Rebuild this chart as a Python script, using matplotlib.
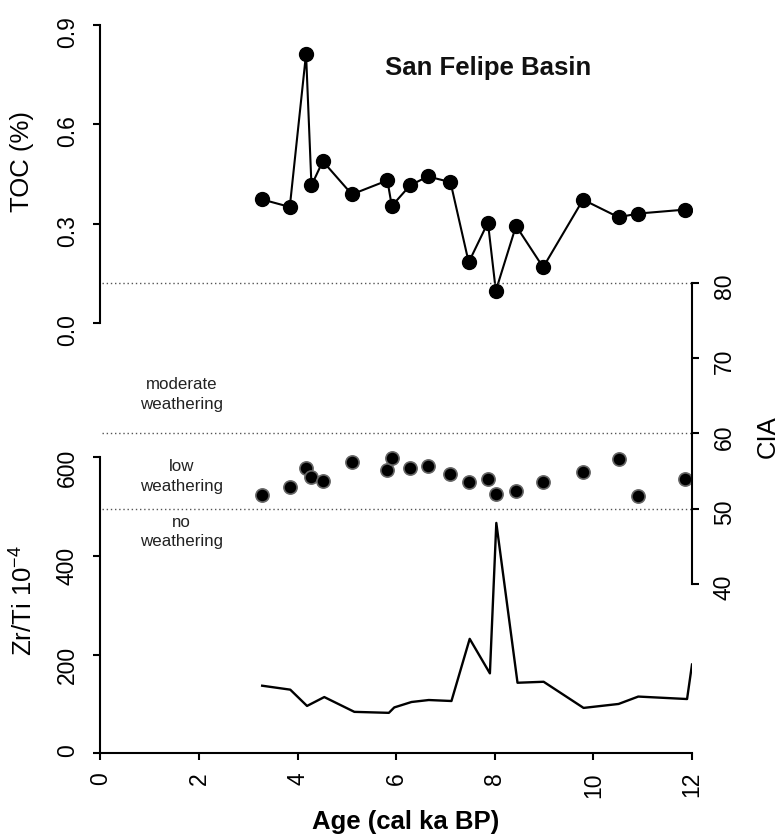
import numpy as np
import matplotlib
matplotlib.use("Agg")
import matplotlib.pyplot as plt

plt.rcParams['font.family'] = ['Liberation Sans', 'DejaVu Sans']
plt.rcParams['mathtext.fontset'] = 'custom'
plt.rcParams['mathtext.rm'] = 'Liberation Sans'
plt.rcParams['mathtext.it'] = 'Liberation Sans:italic'

# sample ages (cal ka BP) and proxies
age = [3.27, 3.84, 4.17, 4.28, 4.51, 5.10, 5.82, 5.91, 6.28, 6.64,
       7.10, 7.47, 7.86, 8.02, 8.43, 8.98, 9.79, 10.51, 10.90, 11.86]
toc = [0.374, 0.351, 0.813, 0.416, 0.489, 0.389, 0.431, 0.354, 0.416, 0.443,
       0.426, 0.184, 0.304, 0.098, 0.294, 0.169, 0.373, 0.320, 0.331, 0.343]
cia = [51.8, 52.9, 55.4, 54.2, 53.7, 56.2, 55.1, 56.7, 55.4, 55.7,
       54.6, 53.5, 54.0, 52.0, 52.4, 53.5, 54.9, 56.6, 51.7, 54.0]

zr_age = [3.28, 3.85, 4.19, 4.54, 5.15, 5.85, 5.96, 6.31, 6.66, 7.12,
          7.49, 7.90, 8.03, 8.46, 8.99, 9.80, 10.51, 10.91, 11.90, 12.0]
zr_ti = [137, 129, 96, 114, 84, 82, 93, 104, 108, 106,
         232, 162, 467, 143, 145, 92, 100, 115, 110, 180]

cia_limits = [80, 60, 50]
zones = ["moderate\nweathering", "low\nweathering", "no\nweathering"]
zone_y = [65.2, 54.3, 46.9]

W, H = 780, 836
fig = plt.figure(figsize=(W / 100, H / 100), dpi=100)

def rect(top, bottom, left=100.5, right=692):
    return [left / W, 1 - bottom / H, (right - left) / W, (bottom - top) / H]

ax_toc = fig.add_axes(rect(25, 323.3))
ax_cia = fig.add_axes(rect(282.7, 584))
ax_zr = fig.add_axes(rect(457.3, 753.3))

for ax in (ax_toc, ax_cia, ax_zr):
    ax.set_xlim(0, 12)
    ax.patch.set_alpha(0)
    for s in ax.spines.values():
        s.set_visible(False)
        s.set_linewidth(1.5)
    ax.tick_params(width=1.5, length=5, labelsize=16.5, labelrotation=90)

# TOC
ax_toc.plot(age, toc, '-o', color='black', lw=1.5, ms=10)
ax_toc.set_ylim(0, 0.9)
ax_toc.set_yticks([0, 0.3, 0.6, 0.9])
ax_toc.set_yticklabels(["0.0", "0.3", "0.6", "0.9"])
ax_toc.spines['left'].set_visible(True)
ax_toc.set_xticks([])
ax_toc.tick_params(axis='y', pad=10.5)
ax_toc.text(5.78, 0.77, "San Felipe Basin", fontsize=18.5, fontweight='bold',
            ha='left', va='center', color='#111111')

# CIA
ax_cia.plot(age, cia, 'o', color='black', ms=9.5, mec='#666666', mew=1.2)
ax_cia.set_ylim(40, 80)
ax_cia.set_yticks([40, 50, 60, 70, 80])
ax_cia.yaxis.tick_right()
ax_cia.spines['right'].set_visible(True)
ax_cia.set_xticks([])
ax_cia.tick_params(axis='y', pad=10)
ax_cia.hlines(cia_limits, 0.04, 12, colors='#555555', linestyles=(0, (1, 2)),
              lw=1, clip_on=False)
for lab, y in zip(zones, zone_y):
    ax_cia.text(1.65, y, lab, fontsize=12.2, ha='center', va='center',
                linespacing=1.4, color='#222222')

# Zr/Ti
ax_zr.plot(zr_age, zr_ti, '-', color='black', lw=1.7)
ax_zr.set_ylim(0, 600)
ax_zr.set_yticks([0, 200, 400, 600])
ax_zr.set_xticks(np.arange(0, 13, 2))
ax_zr.spines['left'].set_visible(True)
ax_zr.spines['bottom'].set_visible(True)
ax_zr.tick_params(axis='y', pad=10.5)
ax_zr.tick_params(axis='x', pad=8.5)

fig.text(22 / W, 1 - 162 / H, "TOC (%)", rotation=90, fontsize=18.5,
         ha='center', va='center')
fig.text(24 / W, 1 - 601 / H, "Zr/Ti 10$^{-4}$", rotation=90, fontsize=18.5,
         ha='center', va='center')
fig.text(768 / W, 1 - 437 / H, "CIA", rotation=90, fontsize=18.5,
         ha='center', va='center')
fig.text(406 / W, 1 - 822 / H, "Age (cal ka BP)", fontsize=18.5,
         fontweight='bold', ha='center', va='center')

fig.savefig("out.png", dpi=100)
